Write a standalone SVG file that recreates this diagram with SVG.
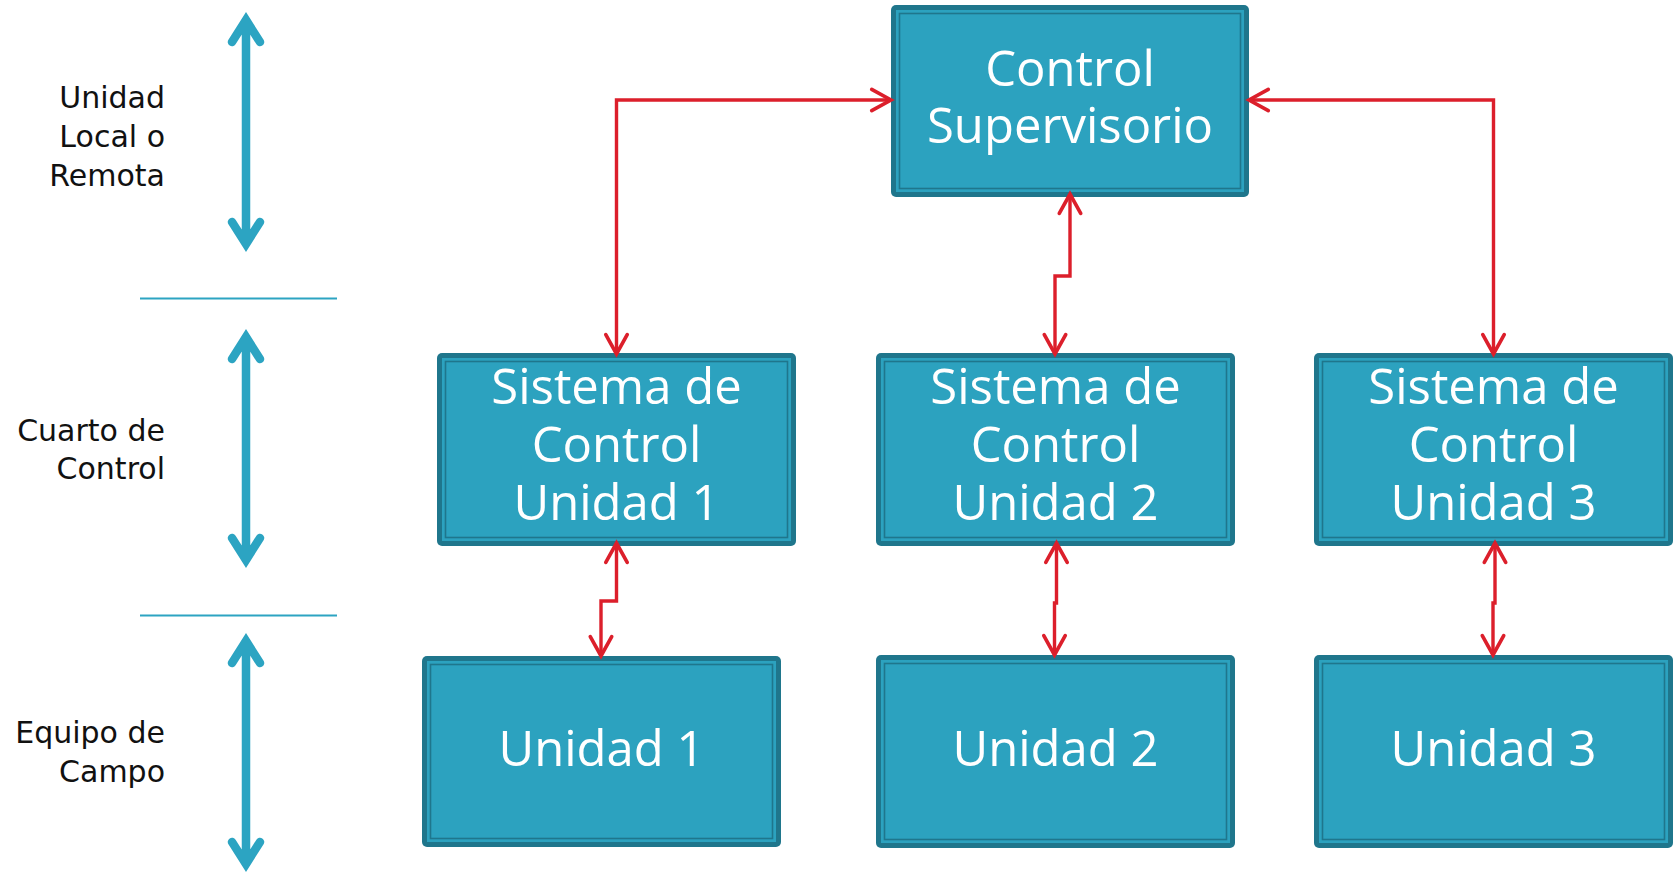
<svg xmlns="http://www.w3.org/2000/svg" width="1675" height="873" viewBox="0 0 1675 873">
  <style>
    .frame { fill: #1f768c; }
    .face { fill: #2ca2bf; }
    .rule { fill: none; stroke: #1f768c; stroke-width: 1.6; }
    .box-text { font-family: "Open Sans", "Liberation Sans", sans-serif; font-size: 49px; fill: #ffffff; text-anchor: middle; }
    .side-label { font-family: "DejaVu Sans", "Liberation Sans", sans-serif; font-size: 30px; fill: #111111; text-anchor: end; }
    .level { fill: none; stroke: #2ca4c2; stroke-width: 8.5; stroke-linecap: round; stroke-linejoin: miter; stroke-miterlimit: 10; }
    .divider { stroke: #2ca4c2; stroke-width: 1.8; }
    .link { fill: none; stroke: #dc1f2b; stroke-width: 3.4; marker-start: url(#head); marker-end: url(#head); }
  </style>
  <defs>
    <marker id="head" markerUnits="userSpaceOnUse" markerWidth="30" markerHeight="30" viewBox="-22 -14 26 28" refX="0" refY="0" orient="auto-start-reverse" overflow="visible">
      <path d="M -18 -10 L 0 0 L -18 10" fill="none" stroke="#dc1f2b" stroke-width="3.4" stroke-linejoin="miter" stroke-linecap="round"/>
    </marker>
  </defs>

  <rect width="1675" height="873" fill="#ffffff"/>

  <!-- level labels and scale arrows -->
  <g id="levels">
    <text class="side-label" x="165" y="108">Unidad</text>
    <text class="side-label" x="165" y="147">Local o</text>
    <text class="side-label" x="165" y="186">Remota</text>

    <text class="side-label" x="165" y="441">Cuarto de</text>
    <text class="side-label" x="165" y="479">Control</text>

    <text class="side-label" x="165" y="743">Equipo de</text>
    <text class="side-label" x="165" y="782">Campo</text>

    <line class="divider" x1="140" y1="298.5" x2="337" y2="298.5"/>
    <line class="divider" x1="140" y1="615.5" x2="337" y2="615.5"/>

    <path class="level" d="M246 20 V243 M232 42 L246 20 L260 42 M232 222 L246 244 L260 222"/>
    <path class="level" d="M246 337 V560 M232 359 L246 337 L260 359 M232 538 L246 560 L260 538"/>
    <path class="level" d="M246 641 V864 M232 663 L246 641 L260 663 M232 842 L246 864 L260 842"/>
  </g>

  <!-- supervisory node -->
  <g id="control-supervisorio">
    <rect class="frame" x="891" y="5" width="358" height="192" rx="5"/>
    <rect class="face" x="896" y="10" width="348" height="182"/>
    <rect class="rule" x="899.5" y="13.5" width="341" height="175"/>
    <text class="box-text" x="1070" y="86">Control</text>
    <text class="box-text" x="1070" y="143">Supervisorio</text>
  </g>

  <!-- control systems -->
  <g id="sistema-1">
    <rect class="frame" x="437" y="353" width="359" height="193" rx="5"/>
    <rect class="face" x="442" y="358" width="349" height="183"/>
    <rect class="rule" x="445.5" y="361.5" width="342" height="176"/>
    <text class="box-text" x="616.5" y="404">Sistema de</text>
    <text class="box-text" x="616.5" y="462">Control</text>
    <text class="box-text" x="616.5" y="520">Unidad 1</text>
  </g>
  <g id="sistema-2">
    <rect class="frame" x="876" y="353" width="359" height="193" rx="5"/>
    <rect class="face" x="881" y="358" width="349" height="183"/>
    <rect class="rule" x="884.5" y="361.5" width="342" height="176"/>
    <text class="box-text" x="1055.5" y="404">Sistema de</text>
    <text class="box-text" x="1055.5" y="462">Control</text>
    <text class="box-text" x="1055.5" y="520">Unidad 2</text>
  </g>
  <g id="sistema-3">
    <rect class="frame" x="1314" y="353" width="359" height="193" rx="5"/>
    <rect class="face" x="1319" y="358" width="349" height="183"/>
    <rect class="rule" x="1322.5" y="361.5" width="342" height="176"/>
    <text class="box-text" x="1493.5" y="404">Sistema de</text>
    <text class="box-text" x="1493.5" y="462">Control</text>
    <text class="box-text" x="1493.5" y="520">Unidad 3</text>
  </g>

  <!-- field units -->
  <g id="unidad-1">
    <rect class="frame" x="422" y="656" width="359" height="191" rx="5"/>
    <rect class="face" x="427" y="661" width="349" height="181"/>
    <rect class="rule" x="430.5" y="664.5" width="342" height="174"/>
    <text class="box-text" x="601.5" y="766">Unidad 1</text>
  </g>
  <g id="unidad-2">
    <rect class="frame" x="876" y="655" width="359" height="193" rx="5"/>
    <rect class="face" x="881" y="660" width="349" height="183"/>
    <rect class="rule" x="884.5" y="663.5" width="342" height="176"/>
    <text class="box-text" x="1055.5" y="766">Unidad 2</text>
  </g>
  <g id="unidad-3">
    <rect class="frame" x="1314" y="655" width="359" height="193" rx="5"/>
    <rect class="face" x="1319" y="660" width="349" height="183"/>
    <rect class="rule" x="1322.5" y="663.5" width="342" height="176"/>
    <text class="box-text" x="1493.5" y="766">Unidad 3</text>
  </g>

  <!-- communication links -->
  <g id="connectors">
    <path class="link" d="M891 100 H616.5 V354"/>
    <path class="link" d="M1249 100 H1493.5 V354"/>
    <path class="link" d="M1070 194 V276 H1055 V354"/>
    <path class="link" d="M616.5 543 V601 H601 V656"/>
    <path class="link" d="M1056.5 543 V603 H1054.5 V655"/>
    <path class="link" d="M1495 543 V603 H1493 V655"/>
  </g>
</svg>
